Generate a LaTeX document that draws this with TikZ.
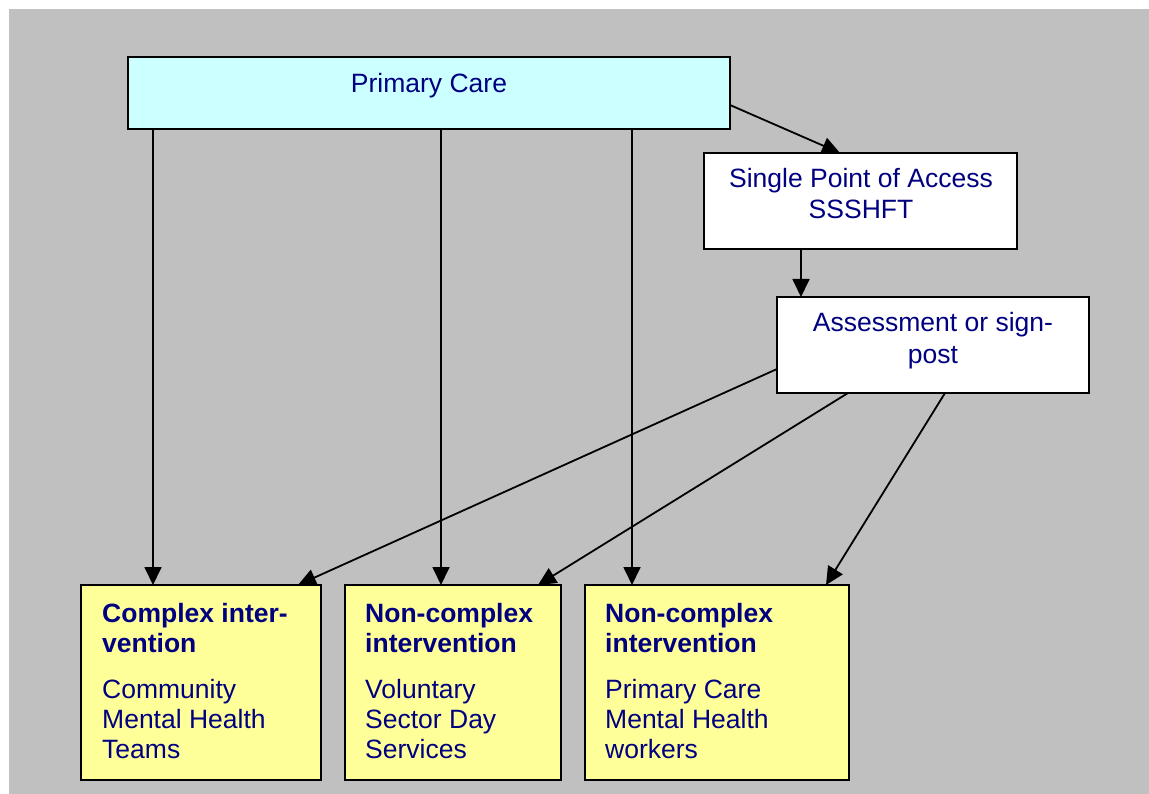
\documentclass[tikz,border=0pt]{standalone}
\usepackage{fontspec}
\setmainfont{Liberation Sans}
\usetikzlibrary{arrows.meta,calc}
\definecolor{bggray}{HTML}{C0C0C0}
\definecolor{pcyan}{HTML}{CCFFFF}
\definecolor{pyellow}{HTML}{FFFF99}
\definecolor{navytext}{HTML}{000080}
\begin{document}
\begin{tikzpicture}[x=1pt,y=-1pt,
  box/.style={draw=black, line width=2pt, inner sep=0pt, outer sep=0pt, anchor=north west},
  txt/.style={inner sep=0pt, text=navytext, font=\fontsize{26.5}{30}\selectfont},
  conn/.style={line width=1.8pt, -{Triangle[length=18pt,width=17pt]}}]
  % canvas
  \fill[white] (0,0) rectangle (1149,794);
  \useasboundingbox (0,0) rectangle (1149,794);
  \fill[bggray] (9,9) rectangle (1149,794);

  % boxes
  \node[box, fill=pcyan, minimum width=602pt, minimum height=72pt] (pc) at (128,57) {};
  \node[box, fill=white, minimum width=313pt, minimum height=96pt] (spa) at (704,153) {};
  \node[box, fill=white, minimum width=312pt, minimum height=96pt] (as) at (777,297) {};
  \node[box, fill=pyellow, minimum width=240pt, minimum height=195pt] (c1) at (81,585) {};
  \node[box, fill=pyellow, minimum width=216pt, minimum height=195pt] (c2) at (345,585) {};
  \node[box, fill=pyellow, minimum width=264pt, minimum height=195pt] (c3) at (585,585) {};

  % texts
  \node[txt, anchor=base] (tpc) at (429,93) {Primary Care};
  \node[txt, anchor=base] (tspa) at (861,188)
    {\parbox[t]{300pt}{\centering\fontsize{26.5}{31}\selectfont Single Point of Access\\SSSHFT}};
  \node[txt, anchor=base] (tas) at (933,332)
    {\parbox[t]{300pt}{\centering\fontsize{26.5}{32}\selectfont Assessment or sign-\\post}};
  \node[txt, anchor=base west] (tc1) at (102,622)
    {\parbox[t]{215pt}{\raggedright\bfseries Complex inter-\\vention\\[16pt]\mdseries Community\\Mental Health\\Teams}};
  \node[txt, anchor=base west] (tc2) at (365,622)
    {\parbox[t]{195pt}{\raggedright\bfseries Non-complex\\intervention\\[16pt]\mdseries Voluntary\\Sector Day\\Services}};
  \node[txt, anchor=base west] (tc3) at (605,622)
    {\parbox[t]{240pt}{\raggedright\bfseries Non-complex\\intervention\\[16pt]\mdseries Primary Care\\Mental Health\\workers}};

  % connectors
  \coordinate (v1) at (153,0);
  \coordinate (v2) at (441,0);
  \coordinate (v3) at (632,0);
  \draw[conn] (pc.south -| v1) -- (c1.north -| v1);
  \draw[conn] (pc.south -| v2) -- (c2.north -| v2);
  \draw[conn] (pc.south -| v3) -- (c3.north -| v3);
  \draw[conn] ($(pc.north east)+(0,48)$) -- ($(spa.north west)+(136,0)$);
  \draw[conn] ($(spa.south west)+(97,0)$) -- ($(as.north west)+(24,0)$);
  \draw[conn] ($(as.north west)+(0,72)$) -- ($(c1.north west)+(217,0)$);
  \draw[conn] ($(as.south west)+(71,0)$) -- ($(c2.north west)+(193,0)$);
  \draw[conn] ($(as.south west)+(168,0)$) -- ($(c3.north west)+(241,0)$);
\end{tikzpicture}
\end{document}
